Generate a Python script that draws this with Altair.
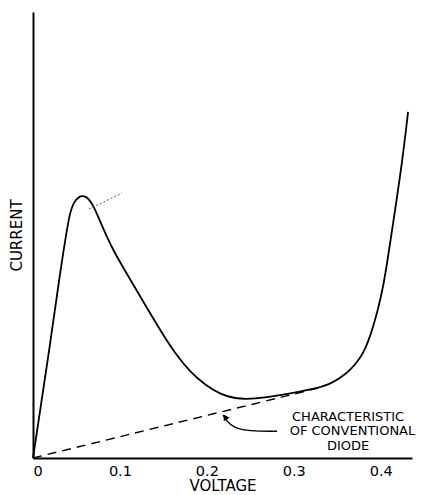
import altair as alt
import pandas as pd

# Tunnel diode characteristic (arbitrary current units)
voltage = [0.0, 0.0069, 0.0196, 0.0311, 0.038, 0.0426, 0.0472, 0.0518, 0.0564, 0.061,
           0.0656, 0.0713, 0.0771, 0.084, 0.0921, 0.1116, 0.1312, 0.1496, 0.1657, 0.1807,
           0.1979, 0.2152, 0.2325, 0.2497, 0.2727, 0.2992, 0.3245, 0.3418, 0.3533, 0.3648,
           0.3728, 0.3797, 0.3855, 0.3912, 0.397, 0.4028, 0.4085, 0.4143, 0.4246, 0.4315]
current = [0.0, 0.90, 2.53, 4.15, 5.00, 5.52, 5.74, 5.84, 5.88, 5.86,
           5.78, 5.58, 5.31, 5.00, 4.66, 4.01, 3.36, 2.76, 2.29, 1.93,
           1.64, 1.43, 1.33, 1.32, 1.37, 1.46, 1.55, 1.66, 1.79, 1.97,
           2.15, 2.35, 2.60, 2.94, 3.34, 3.83, 4.51, 5.27, 6.61, 7.76]

# conventional diode characteristic (dashed)
conv_v = [0.0, 0.335]
conv_i = [0.0, 1.60]

# leader line near the peak
lead_v = [0.0644, 0.1024]
lead_i = [5.58, 5.94]

# annotation arrow path
arrow_v = [0.2186, 0.2302, 0.2808]
arrow_i = [0.96, 0.60, 0.60]

tick_values = [0, 0.1, 0.2, 0.3, 0.4]

label_lines = ["CHARACTERISTIC", "OF CONVENTIONAL", "DIODE"]
label_x = [0.3625, 0.3675, 0.3625]
label_y = [0.93, 0.60, 0.27]

X_DOMAIN = [0, 0.436]
Y_DOMAIN = [0, 10]

xs = alt.Scale(domain=X_DOMAIN, nice=False, zero=False)
ys = alt.Scale(domain=Y_DOMAIN, nice=False, zero=False)

curve_df = pd.DataFrame({"v": voltage, "i": current, "o": range(len(voltage))})
conv_df = pd.DataFrame({"v": conv_v, "i": conv_i})
lead_df = pd.DataFrame({"v": lead_v, "i": lead_i})
arrow_df = pd.DataFrame({"v": arrow_v, "i": arrow_i, "o": range(len(arrow_v))})
head_df = pd.DataFrame({"v": [arrow_v[0] + 0.0025], "i": [arrow_i[0] - 0.04]})
label_df = pd.DataFrame({"t": label_lines, "v": label_x, "i": label_y})

FONT = "DejaVu Sans"

x_enc = alt.X("v:Q", scale=xs,
              axis=alt.Axis(title="VOLTAGE", values=tick_values,
                            labelExpr="datum.value == 0 ? '0' : format(datum.value, '.1f')",
                            ticks=False, grid=False, domainColor="black", domainWidth=2,
                            labelFont=FONT, labelFontSize=14.5, labelColor="black",
                            labelPadding=6, titleFont=FONT, titleFontSize=15,
                            titleFontWeight="normal", titleColor="black", titlePadding=1))
y_enc = alt.Y("i:Q", scale=ys,
              axis=alt.Axis(title="CURRENT", labels=False, ticks=False, grid=False,
                            domainColor="black", domainWidth=2, titleFont=FONT,
                            titleFontSize=15, titleFontWeight="normal", titleColor="black",
                            titlePadding=9))

curve = alt.Chart(curve_df).mark_line(color="black", strokeWidth=1.8,
                                      interpolate="basis").encode(
    x=x_enc, y=y_enc, order="o:Q")

conv = alt.Chart(conv_df).mark_line(color="black", strokeWidth=1.4,
                                    strokeDash=[9, 6]).encode(
    x=alt.X("v:Q", scale=xs), y=alt.Y("i:Q", scale=ys))

lead = alt.Chart(lead_df).mark_line(color="#555555", strokeWidth=1,
                                    strokeDash=[2, 2]).encode(
    x=alt.X("v:Q", scale=xs), y=alt.Y("i:Q", scale=ys))

arrow = alt.Chart(arrow_df).mark_line(color="black", strokeWidth=1.3,
                                      interpolate="basis").encode(
    x=alt.X("v:Q", scale=xs), y=alt.Y("i:Q", scale=ys), order="o:Q")

head = alt.Chart(head_df).mark_point(shape="triangle-up", filled=True, color="black",
                                     size=45, angle=330, opacity=1).encode(
    x=alt.X("v:Q", scale=xs), y=alt.Y("i:Q", scale=ys))

labels = alt.Chart(label_df).mark_text(font=FONT, fontSize=13, color="black",
                                       align="center", baseline="middle").encode(
    x=alt.X("v:Q", scale=xs), y=alt.Y("i:Q", scale=ys), text="t:N")

chart = alt.layer(curve, conv, lead, arrow, head, labels).properties(
    width=379, height=446,
    background="white",
    autosize=alt.AutoSizeParams(type="none"),
    padding={"left": 25, "top": 4, "right": 8, "bottom": 41},
).configure_view(strokeWidth=0)

chart.save("out.html", embed_options={"renderer": "svg", "actions": False})
